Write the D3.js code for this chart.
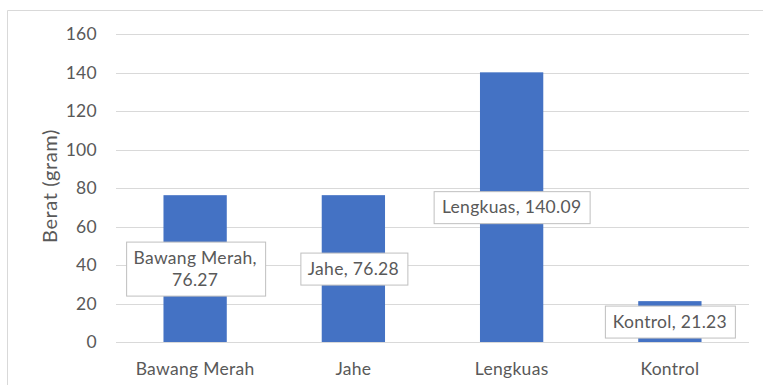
<!DOCTYPE html>
<html lang="id">
<head>
<meta charset="UTF-8">
<title>Berat (gram)</title>
<script src="https://d3js.org/d3.v7.min.js"></script>
<style>
    body {
        margin: 0;
        padding: 0;
        background: #fff;
        font-family: Lato, 'Open Sans', sans-serif;
    }
    svg text {
        fill: #595959;
    }
</style>
</head>
<body>
<div id="chart"></div>
<script>
    // data
    const categories = ["Bawang Merah", "Jahe", "Lengkuas", "Kontrol"];
    const values = [76.27, 76.28, 140.09, 21.23];
    const labelLines = [["Bawang Merah,", "76.27"], ["Jahe, 76.28"], ["Lengkuas, 140.09"], ["Kontrol, 21.23"]];
    const yTicks = [0, 20, 40, 60, 80, 100, 120, 140, 160];

    const width = 763;
    const height = 385;
    const margin = {top: 34, right: 14, bottom: 43, left: 116};
    const fontSize = 17.5;
    const spacing = "0.3px";

    const svg = d3.select("#chart").append("svg")
        .attr("width", width)
        .attr("height", height);

    // chart frame (top and left edges visible)
    svg.append("path")
        .attr("d", "M7.5," + height + "V10.5H" + width)
        .attr("fill", "none")
        .attr("stroke", "#d9d9d9");

    const x = d3.scaleBand()
        .domain(categories)
        .range([margin.left, width - margin.right])
        .paddingInner(0.6)
        .paddingOuter(0.3);

    const y = d3.scaleLinear()
        .domain([0, 160])
        .range([height - margin.bottom, margin.top]);

    // gridlines
    svg.append("g")
        .selectAll("line")
        .data(yTicks)
        .join("line")
        .attr("x1", margin.left)
        .attr("x2", width - margin.right)
        .attr("y1", d => Math.round(y(d)) + 0.5)
        .attr("y2", d => Math.round(y(d)) + 0.5)
        .attr("stroke", "#d9d9d9")
        .attr("stroke-width", 1);

    // y axis labels
    const yAxis = svg.append("g")
        .attr("transform", "translate(" + (margin.left - 19) + ",0)")
        .call(d3.axisLeft(y).tickValues(yTicks).tickSize(0).tickPadding(0));
    yAxis.select(".domain").remove();
    yAxis.selectAll("text")
        .attr("font-size", fontSize)
        .attr("font-family", "Lato, sans-serif")
        .attr("letter-spacing", spacing)
        .attr("fill", "#595959");

    // x axis labels
    const xAxis = svg.append("g")
        .attr("transform", "translate(0," + (height - margin.bottom) + ")")
        .call(d3.axisBottom(x).tickSize(0).tickPadding(21));
    xAxis.select(".domain").remove();
    xAxis.selectAll("text")
        .attr("font-size", fontSize)
        .attr("font-family", "Lato, sans-serif")
        .attr("letter-spacing", spacing)
        .attr("fill", "#595959");

    // axis title
    svg.append("text")
        .attr("transform", "translate(57,186) rotate(-90)")
        .attr("text-anchor", "middle")
        .attr("font-size", 20)
        .attr("letter-spacing", "0.6px")
        .text("Berat (gram)");

    // bars
    svg.append("g")
        .selectAll("rect")
        .data(values)
        .join("rect")
        .attr("x", (d, i) => x(categories[i]))
        .attr("width", x.bandwidth())
        .attr("y", d => y(d))
        .attr("height", d => y(0) - y(d))
        .attr("fill", "#4472c4");

    // data labels, centred in each bar
    const lineH = 22;
    const labels = svg.append("g")
        .selectAll("g")
        .data(values)
        .join("g")
        .attr("transform", (d, i) => "translate(" + (x(categories[i]) + x.bandwidth() / 2) + "," + y(d / 2) + ")");

    labels.each(function (d, i) {
        const g = d3.select(this);
        const lines = labelLines[i];
        const rect = g.append("rect")
            .attr("fill", "#fff")
            .attr("stroke", "#bfbfbf");
        const t = g.append("text")
            .attr("text-anchor", "middle")
            .attr("font-size", fontSize)
            .attr("letter-spacing", spacing);
        lines.forEach((s, k) => {
            t.append("tspan")
                .attr("x", 0)
                .attr("y", (k - (lines.length - 1) / 2) * lineH)
                .attr("dy", "0.35em")
                .text(s);
        });
        const bb = t.node().getBBox();
        const w = Math.round(bb.width + 16);
        const h = lines.length * lineH + 10;
        rect.attr("x", Math.round(-w / 2) + 0.5)
            .attr("y", Math.round(-h / 2) + 0.5)
            .attr("width", w)
            .attr("height", h);
    });
</script>
</body>
</html>
